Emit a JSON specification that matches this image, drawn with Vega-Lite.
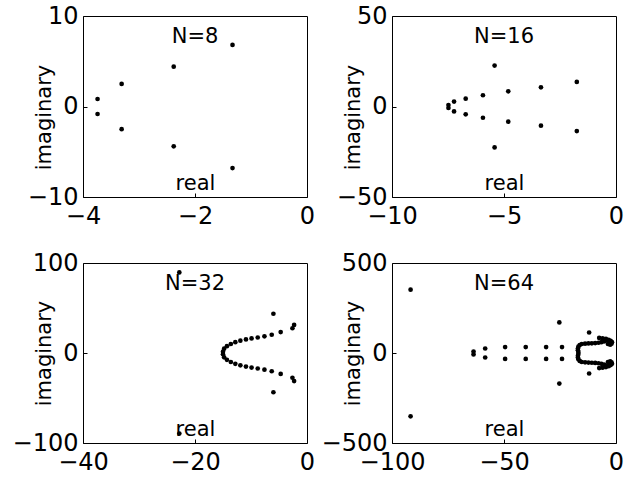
{
  "$schema": "https://vega.github.io/schema/vega-lite/v6.json",
  "background": "white",
  "padding": {"left": 11, "top": 3, "right": 0, "bottom": 0},
  "config": {
    "font": "DejaVu Sans",
    "view": {"stroke": "black", "strokeWidth": 1},
    "axis": {
      "grid": false, "domain": false, "tickSize": -4, "tickColor": "black", "tickWidth": 1,
      "labelFontSize": 24, "labelColor": "black", "labelFlush": false, "labelOverlap": false,
      "titleFontSize": 21, "titleFontWeight": "normal", "titleColor": "black"
    },
    "axisX": {"labelPadding": 11, "titleY": -8, "titleBaseline": "alphabetic"},
    "axisY": {"labelPadding": 9, "titleX": -33, "titleBaseline": "alphabetic", "titleAngle": -90},
    "title": {"fontSize": 21, "fontWeight": "normal", "color": "black", "frame": "group", "offset": -43, "baseline": "alphabetic"}
  },
  "data": {"values": [
    {"N": 8, "re": -1.33, "im": 6.8}, {"N": 8, "re": -1.33, "im": -6.8},
    {"N": 8, "re": -2.38, "im": 4.4}, {"N": 8, "re": -2.38, "im": -4.4},
    {"N": 8, "re": -3.31, "im": 2.5}, {"N": 8, "re": -3.31, "im": -2.5},
    {"N": 8, "re": -3.74, "im": 0.83}, {"N": 8, "re": -3.74, "im": -0.83},
    {"N": 16, "re": -1.75, "im": 13.6}, {"N": 16, "re": -1.75, "im": -13.6},
    {"N": 16, "re": -3.35, "im": 10.6}, {"N": 16, "re": -3.35, "im": -10.6},
    {"N": 16, "re": -4.81, "im": 8.4}, {"N": 16, "re": -4.81, "im": -8.4},
    {"N": 16, "re": -5.42, "im": 22.6}, {"N": 16, "re": -5.42, "im": -22.6},
    {"N": 16, "re": -5.94, "im": 6.2}, {"N": 16, "re": -5.94, "im": -6.2},
    {"N": 16, "re": -6.71, "im": 4.3}, {"N": 16, "re": -6.71, "im": -4.3},
    {"N": 16, "re": -7.23, "im": 2.7}, {"N": 16, "re": -7.23, "im": -2.7},
    {"N": 16, "re": -7.48, "im": 0.83}, {"N": 16, "re": -7.48, "im": -0.83},
    {"N": 32, "re": -15.0, "im": 1.5}, {"N": 32, "re": -15.0, "im": -1.5},
    {"N": 32, "re": -14.8, "im": 4.8}, {"N": 32, "re": -14.8, "im": -4.8},
    {"N": 32, "re": -14.3, "im": 7.6}, {"N": 32, "re": -14.3, "im": -7.6},
    {"N": 32, "re": -13.6, "im": 10.0}, {"N": 32, "re": -13.6, "im": -10.0},
    {"N": 32, "re": -12.8, "im": 12.0}, {"N": 32, "re": -12.8, "im": -12.0},
    {"N": 32, "re": -11.9, "im": 13.7}, {"N": 32, "re": -11.9, "im": -13.7},
    {"N": 32, "re": -10.9, "im": 15.1}, {"N": 32, "re": -10.9, "im": -15.1},
    {"N": 32, "re": -9.9, "im": 16.2}, {"N": 32, "re": -9.9, "im": -16.2},
    {"N": 32, "re": -8.8, "im": 17.2}, {"N": 32, "re": -8.8, "im": -17.2},
    {"N": 32, "re": -7.6, "im": 18.5}, {"N": 32, "re": -7.6, "im": -18.5},
    {"N": 32, "re": -6.3, "im": 20.3}, {"N": 32, "re": -6.3, "im": -20.3},
    {"N": 32, "re": -4.7, "im": 23.2}, {"N": 32, "re": -4.7, "im": -23.2},
    {"N": 32, "re": -2.6, "im": 27.5}, {"N": 32, "re": -2.6, "im": -27.5},
    {"N": 32, "re": -2.3, "im": 31.2}, {"N": 32, "re": -2.3, "im": -31.2},
    {"N": 32, "re": -6.0, "im": 43.6}, {"N": 32, "re": -6.0, "im": -43.6},
    {"N": 32, "re": -22.8, "im": 89.5}, {"N": 32, "re": -22.8, "im": -89.5},
    {"N": 64, "re": -91.7, "im": 352}, {"N": 64, "re": -91.7, "im": -352},
    {"N": 64, "re": -25.3, "im": 170}, {"N": 64, "re": -25.3, "im": -170},
    {"N": 64, "re": -12.0, "im": 114}, {"N": 64, "re": -12.0, "im": -114},
    {"N": 64, "re": -63.6, "im": 8}, {"N": 64, "re": -63.6, "im": -8},
    {"N": 64, "re": -58.4, "im": 25}, {"N": 64, "re": -58.4, "im": -25},
    {"N": 64, "re": -49.5, "im": 33}, {"N": 64, "re": -49.5, "im": -33},
    {"N": 64, "re": -40.3, "im": 33}, {"N": 64, "re": -40.3, "im": -33},
    {"N": 64, "re": -31.2, "im": 33}, {"N": 64, "re": -31.2, "im": -33},
    {"N": 64, "re": -24.1, "im": 33}, {"N": 64, "re": -24.1, "im": -33},
    {"N": 64, "re": -16.8, "im": 5}, {"N": 64, "re": -16.8, "im": -5},
    {"N": 64, "re": -17.0, "im": 15}, {"N": 64, "re": -17.0, "im": -15},
    {"N": 64, "re": -17.0, "im": 25}, {"N": 64, "re": -17.0, "im": -25},
    {"N": 64, "re": -16.8, "im": 35}, {"N": 64, "re": -16.8, "im": -35},
    {"N": 64, "re": -16.2, "im": 44}, {"N": 64, "re": -16.2, "im": -44},
    {"N": 64, "re": -15.3, "im": 50}, {"N": 64, "re": -15.3, "im": -50},
    {"N": 64, "re": -13.8, "im": 52}, {"N": 64, "re": -13.8, "im": -52},
    {"N": 64, "re": -12.3, "im": 53}, {"N": 64, "re": -12.3, "im": -53},
    {"N": 64, "re": -10.8, "im": 54}, {"N": 64, "re": -10.8, "im": -54},
    {"N": 64, "re": -9.3, "im": 55}, {"N": 64, "re": -9.3, "im": -55},
    {"N": 64, "re": -7.8, "im": 57}, {"N": 64, "re": -7.8, "im": -57},
    {"N": 64, "re": -6.5, "im": 60}, {"N": 64, "re": -6.5, "im": -60},
    {"N": 64, "re": -5.3, "im": 64}, {"N": 64, "re": -5.3, "im": -64},
    {"N": 64, "re": -7.5, "im": 84}, {"N": 64, "re": -7.5, "im": -84},
    {"N": 64, "re": -6.0, "im": 82}, {"N": 64, "re": -6.0, "im": -82},
    {"N": 64, "re": -4.5, "im": 78}, {"N": 64, "re": -4.5, "im": -78},
    {"N": 64, "re": -3.3, "im": 73}, {"N": 64, "re": -3.3, "im": -73},
    {"N": 64, "re": -2.4, "im": 67}, {"N": 64, "re": -2.4, "im": -67},
    {"N": 64, "re": -1.8, "im": 60}, {"N": 64, "re": -1.8, "im": -60},
    {"N": 64, "re": -2.0, "im": 52}, {"N": 64, "re": -2.0, "im": -52},
    {"N": 64, "re": -2.6, "im": 46}, {"N": 64, "re": -2.6, "im": -46},
    {"N": 64, "re": -3.6, "im": 50}, {"N": 64, "re": -3.6, "im": -50},
    {"N": 64, "re": -4.2, "im": 70}, {"N": 64, "re": -4.2, "im": -70}
  ]},
  "columns": 2,
  "spacing": {"row": 66, "column": 85},
  "bounds": "flush",
  "concat": [
    {
      "width": 224, "height": 181,
      "title": {"text": "N=8"},
      "transform": [{"filter": "datum.N == 8"}],
      "mark": {"type": "circle", "size": 22, "color": "black", "opacity": 1},
      "encoding": {
        "x": {"field": "re", "type": "quantitative", "scale": {"domain": [-4, 0], "nice": false, "zero": false}, "axis": {"values": [-4, -2, 0], "title": "real"}},
        "y": {"field": "im", "type": "quantitative", "scale": {"domain": [-10, 10], "nice": false}, "axis": {"values": [-10, 0, 10], "title": "imaginary", "titleY": 101}}
      }
    },
    {
      "width": 224, "height": 181,
      "title": {"text": "N=16"},
      "transform": [{"filter": "datum.N == 16"}],
      "mark": {"type": "circle", "size": 22, "color": "black", "opacity": 1},
      "encoding": {
        "x": {"field": "re", "type": "quantitative", "scale": {"domain": [-10, 0], "nice": false, "zero": false}, "axis": {"values": [-10, -5, 0], "title": "real"}},
        "y": {"field": "im", "type": "quantitative", "scale": {"domain": [-50, 50], "nice": false}, "axis": {"values": [-50, 0, 50], "title": "imaginary", "titleY": 101}}
      }
    },
    {
      "width": 224, "height": 180,
      "title": {"text": "N=32"},
      "transform": [{"filter": "datum.N == 32"}],
      "mark": {"type": "circle", "size": 22, "color": "black", "opacity": 1},
      "encoding": {
        "x": {"field": "re", "type": "quantitative", "scale": {"domain": [-40, 0], "nice": false, "zero": false}, "axis": {"values": [-40, -20, 0], "title": "real"}},
        "y": {"field": "im", "type": "quantitative", "scale": {"domain": [-100, 100], "nice": false}, "axis": {"values": [-100, 0, 100], "title": "imaginary", "titleY": 90}}
      }
    },
    {
      "width": 224, "height": 180,
      "title": {"text": "N=64"},
      "transform": [{"filter": "datum.N == 64"}],
      "mark": {"type": "circle", "size": 22, "color": "black", "opacity": 1},
      "encoding": {
        "x": {"field": "re", "type": "quantitative", "scale": {"domain": [-100, 0], "nice": false, "zero": false}, "axis": {"values": [-100, -50, 0], "title": "real"}},
        "y": {"field": "im", "type": "quantitative", "scale": {"domain": [-500, 500], "nice": false}, "axis": {"values": [-500, 0, 500], "title": "imaginary", "titleY": 90}}
      }
    }
  ]
}
